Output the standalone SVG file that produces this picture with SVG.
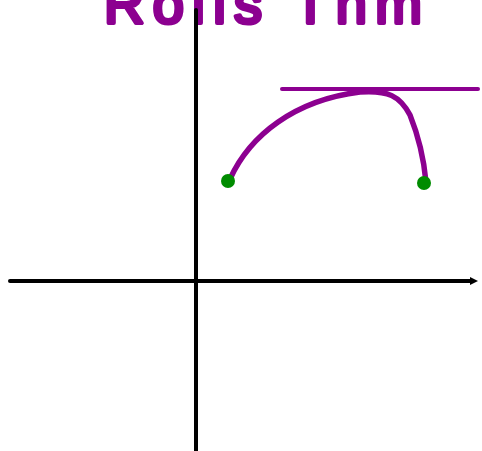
<svg xmlns="http://www.w3.org/2000/svg" width="482" height="451" viewBox="0 0 482 451">
<defs>
<style>
.axis{stroke:#000;stroke-width:4;stroke-linecap:round;fill:none}
.pur{stroke:#8c0090;stroke-linecap:round;stroke-linejoin:round;fill:none}
.pt{fill:#008c00}
</style>
<marker id="ah" markerWidth="8" markerHeight="8" refX="2" refY="4" orient="auto" markerUnits="userSpaceOnUse" viewBox="0 0 8 8">
<path d="M0,0 L8,4 L0,8 Z" fill="#000"/>
</marker>
</defs>
<rect width="482" height="451" fill="#fff"/>
<text x="104" y="23" font-family="Liberation Sans, sans-serif" font-size="56" fill="#8c0090" stroke="#8c0090" stroke-width="4" stroke-linejoin="round" textLength="318" lengthAdjust="spacing">Rolls Thm</text>
<line class="axis" x1="196" y1="10" x2="196" y2="451"/>
<line class="axis" x1="10" y1="281" x2="472" y2="281" marker-end="url(#ah)"/>
<line class="pur" x1="282" y1="89" x2="478" y2="89" stroke-width="4" stroke="#830083"/>
<path class="pur" stroke-width="5.5" d="M230,179 C250,135 295,100 360,92 C388,90 400,96 410,115 C418,135 424,160 426,182"/>
<circle class="pt" cx="228" cy="181" r="7"/>
<circle class="pt" cx="424" cy="183" r="7"/>
</svg>
